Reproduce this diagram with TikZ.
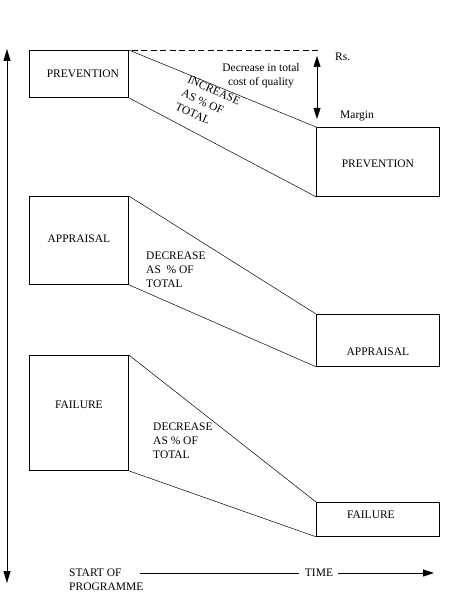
\documentclass[tikz,border=0pt]{standalone}
\usepackage{fontspec}
\setmainfont{Liberation Serif}
\usetikzlibrary{arrows.meta,calc}
\tikzset{
  box/.style={draw, line width=0.8pt, anchor=north west, inner sep=0pt},
  lbl/.style={font=\fontsize{11.5}{14}\selectfont, inner sep=0pt},
  slope/.style={line width=0.5pt},
  tip/.style={-{Triangle[length=11pt,width=7pt]}}
}
\begin{document}
\begin{tikzpicture}[x=1pt, y=-1pt]
  \useasboundingbox (0,0) rectangle (459,601);
  % left column
  \node[box, minimum width=99, minimum height=47] (prevL) at (29,50) {};
  \node[box, minimum width=99, minimum height=88] (appL) at (29,196) {};
  \node[box, minimum width=99, minimum height=115] (failL) at (29,355) {};
  % right column
  \node[box, minimum width=123, minimum height=69] (prevR) at (316,127) {};
  \node[box, minimum width=123, minimum height=52] (appR) at (316,314) {};
  \node[box, minimum width=123, minimum height=34] (failR) at (316,502) {};
  \node[lbl] (prevLt) at ($(prevL.center)+(4,0)$) {PREVENTION};
  \node[lbl] (appLt) at ($(appL.center)+(0,-2)$) {APPRAISAL};
  \node[lbl] (failLt) at ($(failL.center)+(0,-8)$) {FAILURE};
  \node[lbl] (prevRt) at ($(prevR.center)+(0,2)$) {PREVENTION};
  \node[lbl] (appRt) at ($(appR.center)+(0,11)$) {APPRAISAL};
  \node[lbl] (failRt) at ($(failR.center)+(-7,-5)$) {FAILURE};
  % slopes between the columns
  \draw[slope] (prevL.north east) -- (prevR.north west);
  \draw[slope] (prevL.south east) -- (prevR.south west);
  \draw[slope] (appL.north east) -- (appR.north west);
  \draw[slope] (appL.south east) -- (appR.south west);
  \draw[slope] (failL.north east) -- (failR.north west);
  \draw[slope] (failL.south east) -- (failR.south west);
  \node[lbl, align=left, rotate=-24] (incr) at (208,104) {INCREASE\\[1pt]AS \% OF\\[1pt]TOTAL};
  \node[lbl, align=left, anchor=west] (decrA) at (146,270) {DECREASE\\AS~ \% OF\\TOTAL};
  \node[lbl, align=left, anchor=west] (decrF) at (153,441) {DECREASE\\AS \% OF\\TOTAL};
  % margin
  \coordinate (dashA) at (122,50);
  \coordinate (dashB) at (318,50);
  \draw[slope, dash pattern=on 6pt off 3.5pt] (dashA) -- (dashB);
  \coordinate (mTop) at (317,56);
  \coordinate (mBot) at (317,119);
  \draw[slope, {Triangle[length=11pt,width=7pt]}-{Triangle[length=11pt,width=7pt]}] (mTop) -- (mBot);
  \node[lbl, align=center] (decq) at (261,76) {Decrease in total\\cost of quality};
  \node[lbl, anchor=west] (rs) at (335,57) {Rs.};
  \node[lbl, anchor=west] (margin) at (340,116) {Margin};
  % axes
  \coordinate (vTop) at (7,49);
  \coordinate (vBot) at (7,583);
  \draw[line width=0.8pt, {Triangle[length=12pt,width=7pt]}-{Triangle[length=12pt,width=7pt]}] (vTop) -- (vBot);
  \node[lbl, align=left, anchor=west] (start) at (69,580) {START OF\\PROGRAMME};
  \node[lbl] (time) at (319,573) {TIME};
  \coordinate (tStart) at (140,573);
  \coordinate (tEnd) at (434,573);
  \draw[line width=0.8pt] (tStart) -- ($(time.west)+(-6,0)$);
  \draw[line width=0.8pt, tip] ($(time.east)+(5,0)$) -- (tEnd);
\end{tikzpicture}
\end{document}
